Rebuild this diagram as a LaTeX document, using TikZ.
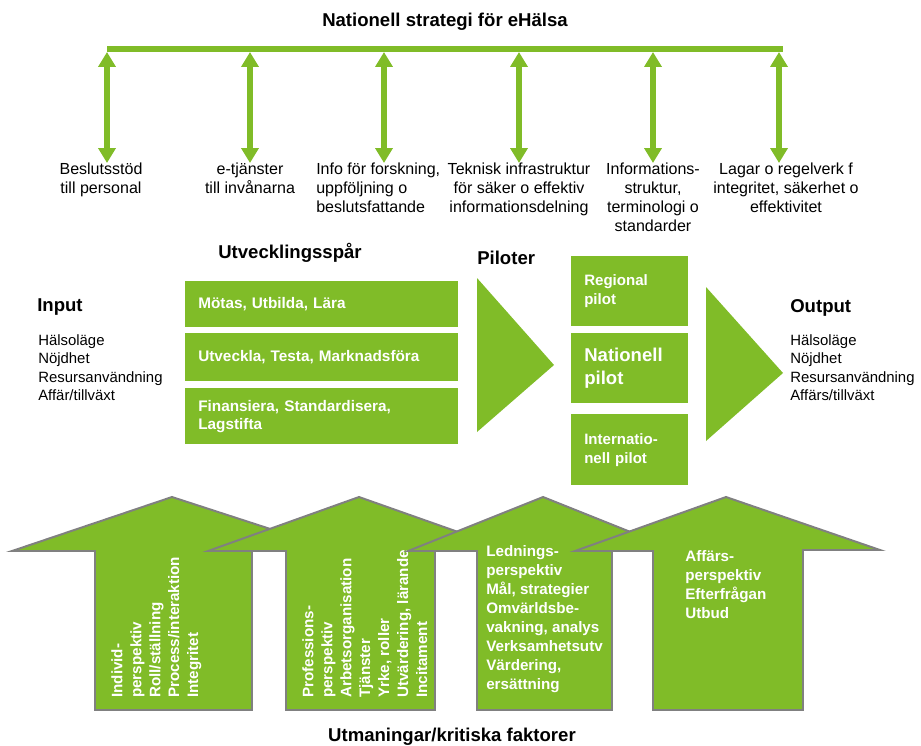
\documentclass[tikz,border=0pt]{standalone}
\usepackage{fontspec}
\setmainfont{Liberation Sans}
\usetikzlibrary{arrows.meta}
\definecolor{ehgreen}{RGB}{128,188,40}
\definecolor{rim}{RGB}{128,128,128}
\newcommand{\pxu}{0.025cm}

\begin{document}
\begin{tikzpicture}[x=\pxu,y=-\pxu,
  rubrik/.style={font=\bfseries\fontsize{13.2}{16}\selectfont, inner sep=0pt},
  etikett/.style={font=\fontsize{11.4}{13.5}\selectfont, align=center, inner sep=0pt, anchor=north},
  lista/.style={font=\fontsize{10.6}{13.25}\selectfont, align=left, inner sep=0pt, anchor=north west},
  koppling/.style={draw=ehgreen, line width=4.25pt, {Triangle[width=12pt,length=10.6pt]}-{Triangle[width=12pt,length=10.6pt]}},
  spar/.style={rectangle, fill=ehgreen, text=white, font=\bfseries\fontsize{10.9}{13.1}\selectfont, align=left, inner sep=0pt, anchor=north west, minimum width=6.825cm, text width=6.175cm},
  pilot/.style={rectangle, fill=ehgreen, text=white, font=\bfseries\fontsize{10.7}{13.4}\selectfont, align=left, inner sep=0pt, anchor=north west, minimum width=2.925cm, text width=2.275cm, minimum height=1.75cm},
  kil/.style={fill=ehgreen},
  pil/.style={fill=ehgreen, draw=rim, line width=1.4pt},
  piltext/.style={text=white, font=\bfseries\fontsize{10.8}{13.5}\selectfont, align=left, inner sep=0pt, anchor=north west}]
\useasboundingbox (0,0) rectangle (921,745);

% strategy bar with its six areas
\draw (445,26) node[rubrik, anchor=base] (titel) {Nationell strategi för eHälsa};
\draw[ehgreen, line width=4.25pt] (107,49) -- (783,49);
\foreach \x [count=\i] in {107,250,384,519,653,779}
  \coordinate (T\i) at (\x,52);
\draw (101,163) node[etikett] (K1) {Beslutsstöd\\till personal};
\draw (250,163) node[etikett] (K2) {e-tjänster\\till invånarna};
\draw (316,163) node[etikett, anchor=north west, align=left] (K3) {Info för forskning,\\uppföljning o\\beslutsfattande};
\draw (519,163) node[etikett] (K4) {Teknisk infrastruktur\\för säker o effektiv\\informationsdelning};
\draw (653,163) node[etikett] (K5) {Informations-\\struktur,\\terminologi o\\standarder};
\draw (786,163) node[etikett] (K6) {Lagar o regelverk f\\integritet, säkerhet o\\effektivitet};
\foreach \i in {1,...,6}
  \draw[koppling] (T\i) -- (T\i |- K\i.north);

% input
\draw (37,311) node[rubrik, anchor=base west] (input) {Input};
\draw (38,334) node[lista] (inlista) {Hälsoläge\\Nöjdhet\\Resursanvändning\\Affär/tillväxt};

% utvecklingsspår
\draw (290,258) node[rubrik, anchor=base] (spor) {Utvecklingsspår};
\draw (185,281) node[spar, minimum height=1.15cm] (S1) {Mötas, Utbilda, Lära};
\draw (185,333) node[spar, minimum height=1.2cm] (S2) {Utveckla, Testa, Marknadsföra};
\draw (185,388) node[spar, minimum height=1.4cm] (S3) {Finansiera, Standardisera,\\Lagstifta};
\fill[kil] (477,278) -- (554,365) -- (477,432) -- cycle;

% piloter
\draw (477,264) node[rubrik, anchor=base west] (piloter) {Piloter};
\draw (571,256) node[pilot] (P1) {Regional\\pilot};
\draw (571,333) node[pilot, font=\bfseries\fontsize{13.2}{16.3}\selectfont] (P2) {Nationell\\pilot};
\draw (571,414) node[pilot, minimum height=1.775cm] (P3) {Internatio-\\nell pilot};
\fill[kil] (706,287) -- (783,373) -- (706,441) -- cycle;

% output
\draw (790,312) node[rubrik, anchor=base west] (output) {Output};
\draw (790,334) node[lista] (utlista) {Hälsoläge\\Nöjdhet\\Resursanvändning\\Affärs/tillväxt};

% utmaningar, four arrows drawn left to right
\filldraw[pil] (12,551) -- (172,497) -- (338,551) -- (252,551) -- (252,710) -- (95,710) -- (95,551) -- cycle;
\draw (111,698) node[piltext, rotate=90] (U1) {Individ-\\perspektiv\\Roll/ställning\\Process/interaktion\\Integritet};
\filldraw[pil] (208,551) -- (359,497) -- (512,551) -- (435,551) -- (435,710) -- (286,710) -- (286,551) -- cycle;
\draw (302,698) node[piltext, rotate=90] (U2) {Professions-\\perspektiv\\Arbetsorganisation\\Tjänster\\Yrke, roller\\Utvärdering, lärande\\Incitament};
\filldraw[pil] (408,551) -- (543,497) -- (678,551) -- (612,551) -- (612,710) -- (477,710) -- (477,551) -- cycle;
\draw (486,545) node[piltext] (U3) {Lednings-\\perspektiv\\Mål, strategier\\Omvärldsbe-\\vakning, analys\\Verksamhetsutv\\Värdering,\\ersättning};
\filldraw[pil] (575,551) -- (726,497) -- (880,550) -- (803,550) -- (803,710) -- (653,710) -- (653,551) -- cycle;
\draw (685,550) node[piltext] (U4) {Affärs-\\perspektiv\\Efterfrågan\\Utbud};
\draw (452,741) node[rubrik, anchor=base] (utmaningar) {Utmaningar/kritiska faktorer};
\end{tikzpicture}
\end{document}
